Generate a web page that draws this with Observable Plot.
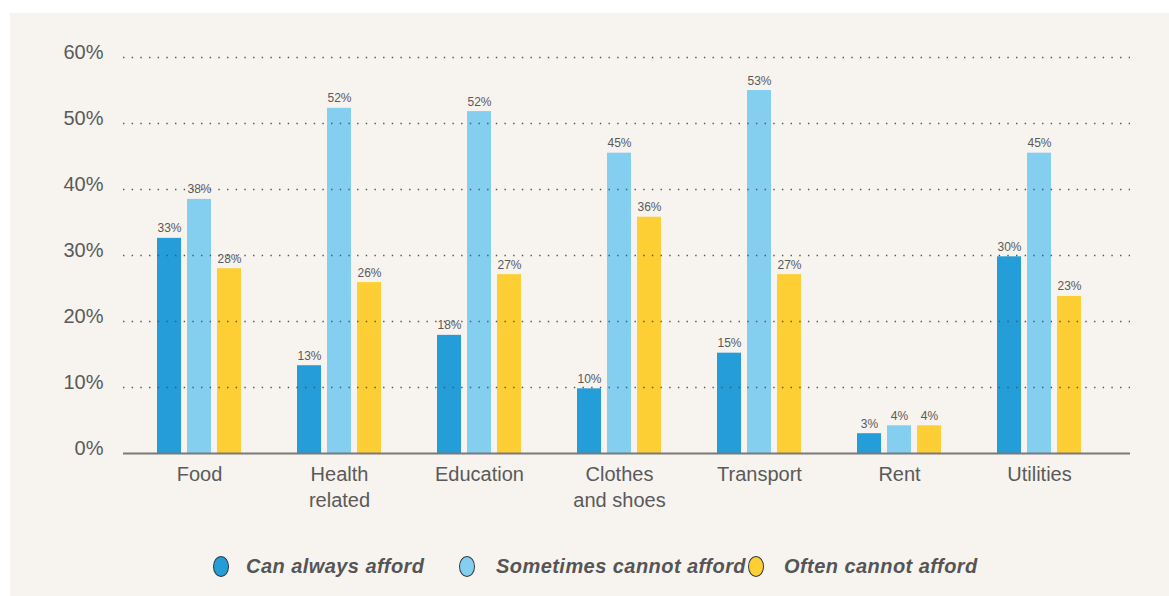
<!DOCTYPE html>
<html>
<head>
<meta charset="utf-8">
<script src="https://cdn.jsdelivr.net/npm/d3@7"></script>
<script src="https://cdn.jsdelivr.net/npm/@observablehq/plot@0.6"></script>
<style>
  html, body { margin: 0; padding: 0; background: #ffffff; width: 1169px; height: 596px; overflow: hidden; }
  #panel { position: absolute; left: 10px; top: 13px; width: 1159px; height: 583px; background: #f7f3ef; }
  .layer { position: absolute; left: 0; top: 0; }
  .layer svg { display: block; }
  .swatch { position: absolute; width: 14px; height: 19px; border-radius: 50%; border: 1px solid #2f3a40; }
  .legend-text { position: absolute; font-family: "Liberation Sans", Arial, sans-serif; font-weight: bold; font-style: italic; font-size: 20px; color: #555555; white-space: nowrap; letter-spacing: 0.45px; line-height: 21px; }
</style>
</head>
<body>
<div id="panel">
  <div id="bars" class="layer"></div>
  <div id="axes" class="layer"></div>
  <div id="legend"></div>
</div>
<script>
// ---- data ----
const categories = ["Food", "Health related", "Education", "Clothes and shoes", "Transport", "Rent", "Utilities"];
const categoryLabels = ["Food", "Health\nrelated", "Education", "Clothes\nand shoes", "Transport", "Rent", "Utilities"];
const seriesNames = ["Can always afford", "Sometimes cannot afford", "Often cannot afford"];
const seriesColors = ["#249dd9", "#84cef0", "#fecf34"];
// bar heights (%) as drawn
const canAlways = [32.6, 13.3, 17.9, 9.8, 15.2, 3.0, 29.8];
const sometimesCannot = [38.5, 52.3, 51.8, 45.5, 55.0, 4.2, 45.5];
const oftenCannot = [28.0, 25.9, 27.1, 35.8, 27.1, 4.2, 23.8];
// printed value labels
const canAlwaysLabels = ["33%", "13%", "18%", "10%", "15%", "3%", "30%"];
const sometimesCannotLabels = ["38%", "52%", "52%", "45%", "53%", "4%", "45%"];
const oftenCannotLabels = ["28%", "26%", "27%", "36%", "27%", "4%", "23%"];
const yTicks = [0, 10, 20, 30, 40, 50, 60];

// ---- table ----
const seriesValues = [canAlways, sometimesCannot, oftenCannot];
const seriesLabels = [canAlwaysLabels, sometimesCannotLabels, oftenCannotLabels];
const table = [];
categories.forEach((c, i) => {
  seriesNames.forEach((s, j) => {
    table.push({category: c, series: s, value: seriesValues[j][i], label: seriesLabels[j][i]});
  });
});
const labelOf = new Map(categories.map((c, i) => [c, categoryLabels[i]]));

const font = '"Liberation Sans", Arial, sans-serif';
const textColor = "#5a5a5a";
const common = {
  width: 1159,
  height: 515,
  marginLeft: 113,
  marginRight: 39,
  marginTop: 44,
  marginBottom: 75,
  style: {background: "transparent", fontFamily: font, color: textColor}
};

// bars layer (faceted by category)
const barsPlot = Plot.plot({
  ...common,
  fx: {domain: categories, range: [118.7, 1098.7], padding: 0, label: null},
  x: {domain: seriesNames, paddingInner: 0.2, paddingOuter: 0.933, axis: null},
  y: {domain: [0, 60], axis: null},
  color: {domain: seriesNames, range: seriesColors},
  marks: [
    Plot.barY(table, {fx: "category", x: "series", y: "value", fill: "series"}),
    Plot.text(table, {fx: "category", x: "series", y: "value", text: "label", dy: -6, lineAnchor: "bottom", fontSize: 12, fill: textColor}),
    Plot.axisFx({anchor: "bottom", tickSize: 0, tickPadding: 9, fontSize: 20, lineHeight: 1.3, fill: textColor, tickFormat: d => labelOf.get(d), label: null})
  ]
});
document.getElementById("bars").appendChild(barsPlot);

// grid + baseline + y axis layer (full frame, drawn over bars)
const axesPlot = Plot.plot({
  ...common,
  y: {domain: [0, 60]},
  marks: [
    Plot.ruleY(yTicks.slice(1), {stroke: "#555555", strokeWidth: 1.6, strokeDasharray: "1.4,7.27"}),
    Plot.ruleY([0], {stroke: "#7a7a7a", strokeWidth: 2}),
    Plot.axisY({ticks: yTicks, tickFormat: d => d + "%", tickSize: 0, tickPadding: 20, dy: -5, fontSize: 20, fill: textColor, label: null})
  ]
});
document.getElementById("axes").appendChild(axesPlot);

// ---- legend ----
const legend = document.getElementById("legend");
const swatchX = [203, 449, 738];
const textX = [236, 486, 774];
seriesNames.forEach((s, j) => {
  const sw = document.createElement("div");
  sw.className = "swatch";
  sw.style.left = swatchX[j] + "px";
  sw.style.top = "543px";
  sw.style.background = seriesColors[j];
  legend.appendChild(sw);
  const t = document.createElement("div");
  t.className = "legend-text";
  t.style.left = textX[j] + "px";
  t.style.top = "543px";
  t.textContent = s;
  legend.appendChild(t);
});
</script>
</body>
</html>
